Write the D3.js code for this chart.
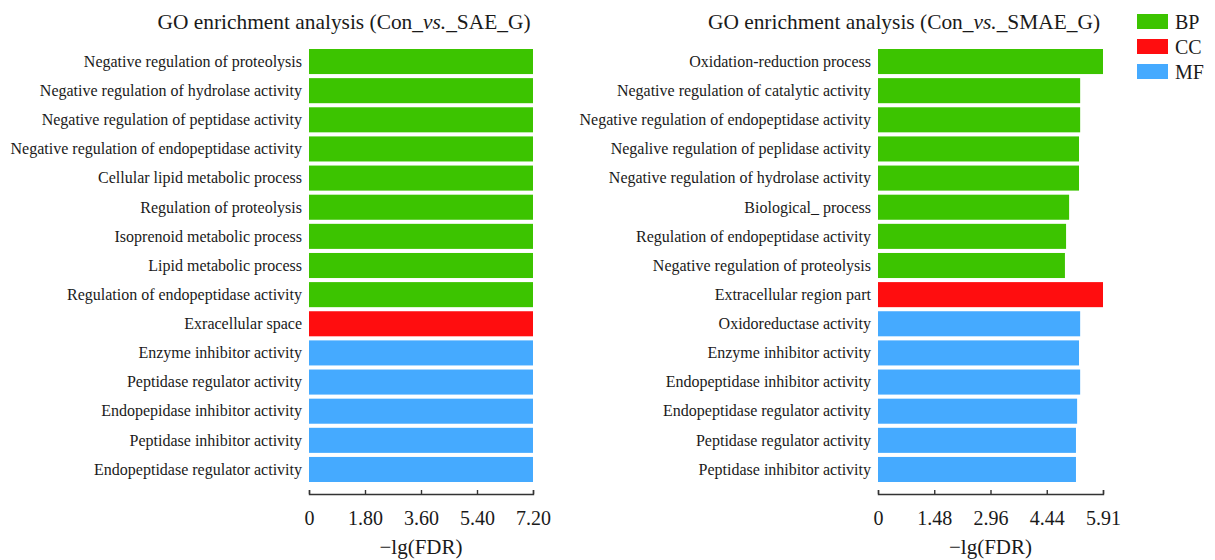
<!DOCTYPE html>
<html>
<head>
<meta charset="utf-8">
<script src="https://cdn.jsdelivr.net/npm/d3@7"></script>
<style>
  body { margin: 0; background: #fff; }
  svg text { font-family: "Liberation Serif", "Times New Roman", serif; fill: #1a1a1a; }
</style>
</head>
<body>
<svg id="chart" width="1215" height="560"></svg>
<script>
// ---- data ----
const leftTerms = [
  "Negative regulation of proteolysis",
  "Negative regulation of hydrolase activity",
  "Negative regulation of peptidase activity",
  "Negative regulation of endopeptidase activity",
  "Cellular lipid metabolic process",
  "Regulation of proteolysis",
  "Isoprenoid metabolic process",
  "Lipid metabolic process",
  "Regulation of endopeptidase activity",
  "Exracellular space",
  "Enzyme inhibitor activity",
  "Peptidase regulator activity",
  "Endopepidase inhibitor activity",
  "Peptidase inhibitor activity",
  "Endopeptidase regulator activity"
];
const leftCats = ["BP","BP","BP","BP","BP","BP","BP","BP","BP","CC","MF","MF","MF","MF","MF"];
const leftValues = [7.2, 7.2, 7.2, 7.2, 7.2, 7.2, 7.2, 7.2, 7.2, 7.2, 7.2, 7.2, 7.2, 7.2, 7.2];
const leftTicks = [0, 1.8, 3.6, 5.4, 7.2];
const leftTickLabels = ["0", "1.80", "3.60", "5.40", "7.20"];

const rightTerms = [
  "Oxidation-reduction process",
  "Negative regulation of catalytic activity",
  "Negative regulation of endopeptidase activity",
  "Negalive regulation of peplidase activity",
  "Negative regulation of hydrolase activity",
  "Biological_ process",
  "Regulation of endopeptidase activity",
  "Negative regulation of proteolysis",
  "Extracellular region part",
  "Oxidoreductase activity",
  "Enzyme inhibitor activity",
  "Endopeptidase inhibitor activity",
  "Endopeptidase regulator activity",
  "Peptidase regulator activity",
  "Peptidase inhibitor activity"
];
const rightCats = ["BP","BP","BP","BP","BP","BP","BP","BP","CC","MF","MF","MF","MF","MF","MF"];
const rightValues = [5.91, 5.31, 5.31, 5.28, 5.28, 5.02, 4.94, 4.91, 5.91, 5.31, 5.28, 5.31, 5.23, 5.20, 5.20];
const rightTicks = [0, 1.4775, 2.955, 4.4325, 5.91];
const rightTickLabels = ["0", "1.48", "2.96", "4.44", "5.91"];

const legendKeys = ["BP", "CC", "MF"];
const legendColors = ["#3cc400", "#ff0d0f", "#45aaff"];

// ---- drawing ----
const svg = d3.select("#chart");
const cScale = d3.scaleOrdinal().domain(legendKeys).range(legendColors);

function drawPanel(cfg) {
  const g = svg.append("g");

  const x = d3.scaleLinear().domain(cfg.domain).range([cfg.x0, cfg.x1]);
  const y = d3.scaleBand().domain(cfg.terms).range([49, 482])
    .paddingInner(0.14).paddingOuter(0);

  const rows = cfg.terms.map((t, i) => ({ term: t, cat: cfg.cats[i], value: cfg.values[i] }));

  g.selectAll("rect.bar")
    .data(rows)
    .join("rect")
    .attr("class", "bar")
    .attr("x", x(0))
    .attr("y", d => y(d.term))
    .attr("width", d => x(d.value) - x(0))
    .attr("height", y.bandwidth())
    .attr("fill", d => cScale(d.cat));

  // category labels
  g.selectAll("text.term")
    .data(rows)
    .join("text")
    .attr("class", "term")
    .attr("x", cfg.x0 - 7)
    .attr("y", d => y(d.term) + y.bandwidth() / 2)
    .attr("dy", "0.33em")
    .attr("text-anchor", "end")
    .style("font-size", "16px")
    .text(d => d.term);

  // x axis
  const axis = d3.axisBottom(x)
    .tickValues(cfg.ticks)
    .tickFormat((d, i) => cfg.tickLabels[i])
    .tickSize(-4)
    .tickPadding(17);

  const ax = g.append("g")
    .attr("transform", `translate(0,494)`)
    .call(axis);
  ax.select(".domain").attr("stroke", "#333").attr("stroke-width", 1.4);
  ax.selectAll(".tick line").attr("stroke", "#333").attr("stroke-width", 1.4);
  ax.selectAll(".tick text")
    .style("font-size", "20px")
    .style("font-family", "'Liberation Serif', 'Times New Roman', serif")
    .attr("fill", "#1a1a1a");

  g.append("text")
    .attr("x", (cfg.x0 + cfg.x1) / 2)
    .attr("y", 554)
    .attr("text-anchor", "middle")
    .style("font-size", "21px")
    .text("\u2212lg(FDR)");

  // title
  const title = g.append("text")
    .attr("x", cfg.titleX)
    .attr("y", 29)
    .attr("text-anchor", "middle")
    .style("font-size", "21.4px");
  title.append("tspan").text("GO enrichment analysis (Con_");
  title.append("tspan").style("font-style", "italic").text("vs.");
  title.append("tspan").text("_" + cfg.group + ")");
}

drawPanel({
  terms: leftTerms, cats: leftCats, values: leftValues,
  domain: [0, 7.2], ticks: leftTicks, tickLabels: leftTickLabels,
  x0: 309, x1: 533, titleX: 344, group: "SAE_G"
});

drawPanel({
  terms: rightTerms, cats: rightCats, values: rightValues,
  domain: [0, 5.91], ticks: rightTicks, tickLabels: rightTickLabels,
  x0: 878, x1: 1103, titleX: 904, group: "SMAE_G"
});

// legend
const leg = svg.append("g").attr("transform", "translate(1137,14)");
leg.selectAll("rect")
  .data(legendKeys)
  .join("rect")
  .attr("x", 0)
  .attr("y", (d, i) => i * 25)
  .attr("width", 31)
  .attr("height", 15)
  .attr("fill", d => cScale(d));
leg.selectAll("text")
  .data(legendKeys)
  .join("text")
  .attr("x", 38)
  .attr("y", (d, i) => i * 25 + 15)
  .style("font-size", "20px")
  .text(d => d);
</script>
</body>
</html>
